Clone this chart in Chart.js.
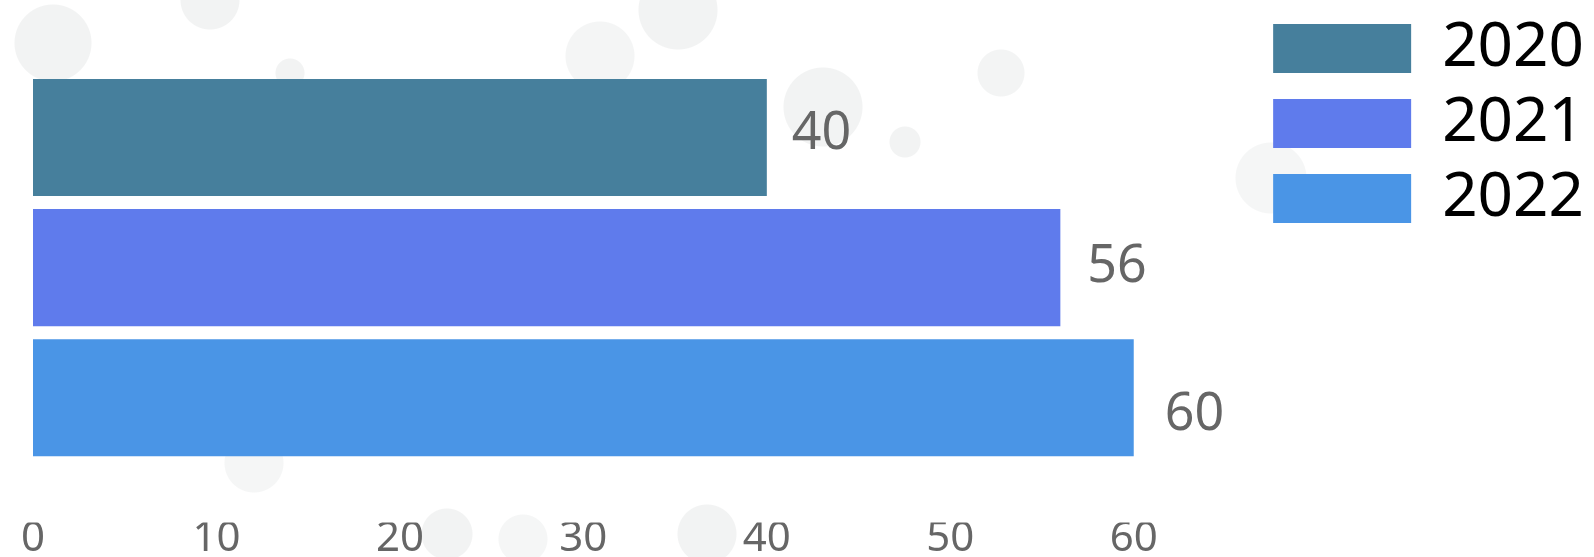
<!DOCTYPE html>
<html lang="en">

<head>
    <meta charset="UTF-8">
    <title>Bars 2020-2022</title>
    <script src="https://cdn.jsdelivr.net/npm/chart.js"></script>
    <style>
        html, body { margin: 0; padding: 0; background: #fff; }
        #wrap {
            width: 1594px; height: 557px; position: relative;
            /* faint decorative dots from the backdrop */
            background:
                radial-gradient(circle at 53px 43px, #f2f3f3 38px, transparent 39px),
                radial-gradient(circle at 210px 0px, #f2f3f3 29px, transparent 30px),
                radial-gradient(circle at 290px 73px, #f2f3f3 14px, transparent 15px),
                radial-gradient(circle at 600px 56px, #f4f5f5 34px, transparent 35px),
                radial-gradient(circle at 678px 10px, #f2f3f3 39px, transparent 40px),
                radial-gradient(circle at 823px 107px, #f2f3f3 39px, transparent 40px),
                radial-gradient(circle at 905px 142px, #f2f3f3 15px, transparent 16px),
                radial-gradient(circle at 1001px 73px, #f3f4f4 23px, transparent 24px),
                radial-gradient(circle at 1271px 178px, #f5f6f6 35px, transparent 36px),
                radial-gradient(circle at 254px 463px, #f5f6f6 29px, transparent 30px),
                radial-gradient(circle at 447px 534px, #f2f3f3 25px, transparent 26px),
                radial-gradient(circle at 523px 539px, #f5f6f6 24px, transparent 25px),
                radial-gradient(circle at 707px 534px, #f2f3f3 29px, transparent 30px),
                #fff;
        }
    </style>
</head>

<body>
    <div id="wrap">
        <canvas id="barChart"></canvas>
    </div>

    <script>
        // data
        const years = ['2020', '2021', '2022'];
        const values = [40, 56, 60];
        const barColors = ['#467f9c', '#5f7bec', '#4a95e6'];
        const xTicks = [0, 10, 20, 30, 40, 50, 60];

        // value label drawn right of each bar end (small per-label nudges as in the original)
        const labelNudgeX = [-1, 1, 5];
        const labelNudgeY = [-3, 0, 17];
        const valueLabels = {
            id: 'valueLabels',
            afterDatasetsDraw(chart) {
                const ctx = chart.ctx;
                ctx.save();
                ctx.font = '52px "Noto Sans"';
                ctx.fillStyle = '#666';
                ctx.textAlign = 'left';
                ctx.textBaseline = 'middle';
                chart.data.datasets.forEach((ds, i) => {
                    const meta = chart.getDatasetMeta(i);
                    meta.data.forEach((bar, j) => {
                        ctx.fillText(ds.data[j], bar.x + 26 + labelNudgeX[i], bar.y + labelNudgeY[i]);
                    });
                });
                ctx.restore();
            }
        };

        const ctx = document.getElementById('barChart').getContext('2d');
        const chart = new Chart(ctx, {
            type: 'bar',
            data: {
                labels: [''],
                datasets: years.map((y, i) => ({
                    label: y,
                    data: [values[i]],
                    backgroundColor: barColors[i],
                    borderWidth: 0,
                    barPercentage: 0.9,
                    categoryPercentage: 0.766
                }))
            },
            options: {
                indexAxis: 'y',
                responsive: true,
                maintainAspectRatio: false,
                animation: false,
                layout: {
                    padding: { top: 4.5, left: 33, right: 0, bottom: 1 }
                },
                plugins: {
                    title: {
                        display: true,
                        text: '',
                        font: { size: 1, lineHeight: 1 },
                        padding: { top: 7.3, bottom: 0 }
                    },
                    legend: {
                        display: true,
                        position: 'right',
                        align: 'start',
                        labels: {
                            boxWidth: 138,
                            boxHeight: 49,
                            padding: 13,
                            color: '#000',
                            font: { family: '"Noto Sans"', size: 62 }
                        }
                    },
                    tooltip: { enabled: false }
                },
                scales: {
                    x: {
                        min: 0,
                        max: 66.89,
                        grid: { display: false, drawTicks: false },
                        border: { display: false },
                        afterBuildTicks(axis) {
                            axis.ticks = xTicks.map(v => ({ value: v }));
                        },
                        ticks: {
                            padding: 0,
                            color: '#666',
                            font: { family: '"Noto Sans"', size: 42, lineHeight: 0.8 },
                            maxRotation: 0
                        }
                    },
                    y: {
                        display: false
                    }
                }
            },
            plugins: [valueLabels]
        });
    </script>
</body>

</html>
